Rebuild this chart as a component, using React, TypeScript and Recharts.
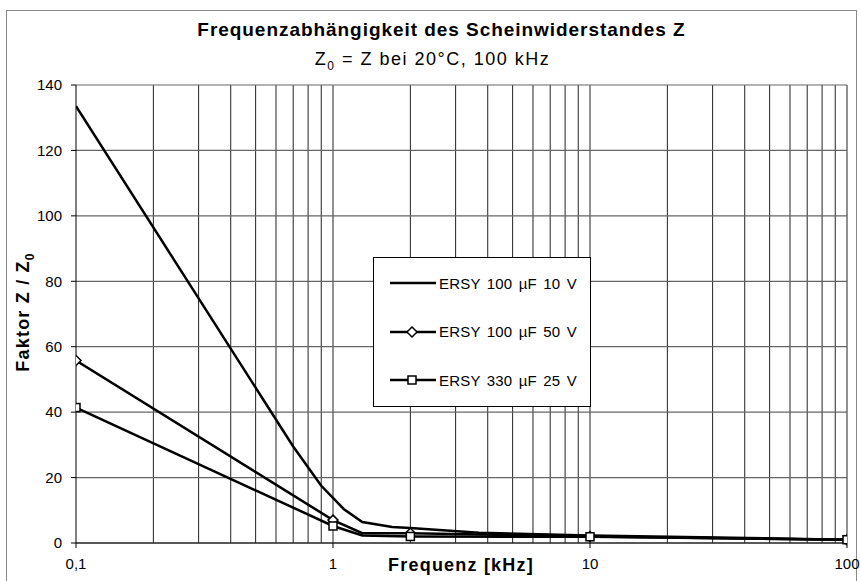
import React from 'react';
import { LineChart, Line, XAxis, YAxis, ReferenceLine } from 'recharts';

// frequency in kHz, factor Z / Z0
const freq10V = [0.1, 0.7, 0.9, 1, 1.1, 1.3, 1.7, 2, 3.7, 10, 100];
const val10V = [133.5, 29.5, 17.5, 13.8, 10.4, 6.4, 4.9, 4.6, 3.1, 2.3, 1.0];

const freq50V = [0.1, 1, 1.3, 2, 10, 100];
const val50V = [55.8, 7.0, 3.0, 3.0, 2.0, 1.0];

const freq25V = [0.1, 1, 1.3, 2, 10, 100];
const val25V = [41.4, 5.2, 2.3, 2.0, 1.9, 1.0];

const markerFreqs = [0.1, 1, 2, 10, 100];
const xTicks = [0.1, 1, 10, 100];
const yTicks = [0, 20, 40, 60, 80, 100, 120, 140];

const legendNames = ['ERSY 100 µF 10 V', 'ERSY 100 µF 50 V', 'ERSY 330 µF 25 V'];

const gridFreqs: number[] = [];
[0.1, 1, 10].forEach((d) => {
  for (let i = 2; i <= 9; i++) gridFreqs.push(+(d * i).toFixed(2));
});
gridFreqs.push(1, 10, 100);

const toRows = (fs: number[], vs: number[]) => fs.map((f, i) => ({ f, v: vs[i] }));
const data10V = toRows(freq10V, val10V);
const data50V = toRows(freq50V, val50V);
const data25V = toRows(freq25V, val25V);

const FONT = '"Liberation Sans", Arial, sans-serif';

const isMarked = (f: number) => markerFreqs.some((m) => Math.abs(m - f) < 1e-9);

const Diamond = (props: any) => {
  const { cx, cy, payload, index } = props;
  if (!isMarked(payload.f)) return <g key={index} />;
  return (
    <path
      key={index}
      d={`M${cx},${cy - 5} L${cx + 5},${cy} L${cx},${cy + 5} L${cx - 5},${cy} Z`}
      fill="#fff"
      stroke="#000"
      strokeWidth={1.5}
    />
  );
};

const Square = (props: any) => {
  const { cx, cy, payload, index } = props;
  if (!isMarked(payload.f)) return <g key={index} />;
  return <rect key={index} x={cx - 4} y={cy - 4} width={8} height={8} fill="#fff" stroke="#000" strokeWidth={1.5} />;
};

const LegendBox = () => (
  <div
    style={{
      position: 'absolute',
      left: 373,
      top: 257,
      width: 218,
      height: 150,
      border: '1px solid #000',
      background: '#fff',
      boxSizing: 'border-box',
      fontSize: 15,
      color: '#000',
      paddingTop: 1,
    }}
  >
    {legendNames.map((name, i) => (
      <div key={name} style={{ display: 'flex', alignItems: 'center', height: 48.5 }}>
        <svg width={50} height={14} style={{ marginLeft: 14 }}>
          <line x1={2} y1={7} x2={48} y2={7} stroke="#000" strokeWidth={2.5} />
          {i === 1 && <path d="M24,2 L29,7 L24,12 L19,7 Z" fill="#fff" stroke="#000" strokeWidth={1.5} />}
          {i === 2 && <rect x={20} y={3} width={8} height={8} fill="#fff" stroke="#000" strokeWidth={1.5} />}
        </svg>
        <span style={{ marginLeft: 1, letterSpacing: 0.2, wordSpacing: 2 }}>{name}</span>
      </div>
    ))}
  </div>
);

export default function App() {
  return (
    <div
      style={{
        position: 'absolute',
        left: 0,
        top: 0,
        width: 861,
        height: 581,
        background: '#fff',
        fontFamily: FONT,
        overflow: 'hidden',
      }}
    >
      <div
        style={{
          position: 'absolute',
          left: 6,
          top: 10,
          width: 849,
          height: 580,
          border: '1px solid #888',
        }}
      />
      <div
        style={{
          position: 'absolute',
          left: 0,
          width: 883,
          top: 19,
          textAlign: 'center',
          fontSize: 19,
          fontWeight: 'bold',
          letterSpacing: 0.95,
        }}
      >
        Frequenzabhängigkeit des Scheinwiderstandes Z
      </div>
      <div style={{ position: 'absolute', left: 0, width: 865, top: 49, textAlign: 'center', fontSize: 18, letterSpacing: 1.5 }}>
        Z<sub style={{ fontSize: 12 }}>0</sub> = Z bei 20°C, 100 kHz
      </div>
      <div
        style={{
          position: 'absolute',
          left: 25,
          top: 312,
          transform: 'translate(-50%, -50%) rotate(-90deg)',
          whiteSpace: 'nowrap',
          fontSize: 18,
          fontWeight: 'bold',
          letterSpacing: 1.2,
        }}
      >
        Faktor Z / Z<sub style={{ fontSize: 12 }}>0</sub>
      </div>
      <div
        style={{
          position: 'absolute',
          left: 461,
          top: 565,
          transform: 'translate(-50%, -50%)',
          whiteSpace: 'nowrap',
          fontSize: 18,
          fontWeight: 'bold',
          letterSpacing: 1.2,
        }}
      >
        Frequenz [kHz]
      </div>
      <div style={{ position: 'absolute', left: 0, top: 0 }}>
        <LineChart width={861} height={581} margin={{ top: 85, right: 14, left: 26, bottom: 8 }}>
          {gridFreqs.map((g) => (
            <ReferenceLine key={'x' + g} x={g} stroke="#222" strokeWidth={1} />
          ))}
          {yTicks.map((t) => (
            <ReferenceLine key={'y' + t} y={t} stroke="#666" strokeWidth={1.2} />
          ))}
          <XAxis
            dataKey="f"
            type="number"
            scale="log"
            domain={[0.1, 100]}
            ticks={xTicks}
            allowDataOverflow
            height={30}
            tickSize={5}
            tickMargin={10}
            axisLine={{ stroke: '#000' }}
            tickLine={{ stroke: '#000' }}
            tickFormatter={(v: number) => String(v).replace('.', ',')}
            tick={{ fontSize: 15, fill: '#000', fontFamily: FONT }}
          />
          <YAxis
            type="number"
            domain={[0, 140]}
            ticks={yTicks}
            width={50}
            tickSize={5}
            tickMargin={9}
            axisLine={{ stroke: '#000' }}
            tickLine={{ stroke: '#000' }}
            tick={{ fontSize: 15, fill: '#000', fontFamily: FONT }}
          />
          <Line
            data={data10V}
            dataKey="v"
            name={legendNames[0]}
            stroke="#000"
            strokeWidth={2.5}
            dot={false}
            isAnimationActive={false}
          />
          <Line
            data={data50V}
            dataKey="v"
            name={legendNames[1]}
            stroke="#000"
            strokeWidth={2.5}
            dot={Diamond}
            isAnimationActive={false}
          />
          <Line
            data={data25V}
            dataKey="v"
            name={legendNames[2]}
            stroke="#000"
            strokeWidth={2.5}
            dot={Square}
            isAnimationActive={false}
          />
        </LineChart>
      </div>
      <LegendBox />
    </div>
  );
}
